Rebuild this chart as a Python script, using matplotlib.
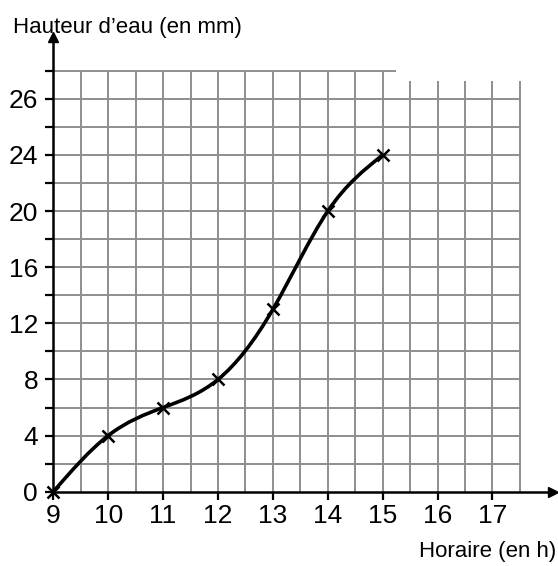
import matplotlib
matplotlib.use("Agg")
import matplotlib.pyplot as plt
from matplotlib.path import Path
from matplotlib.patches import PathPatch
import numpy as np

# data
hours = [9, 10, 11, 12, 13, 14, 15]
water_mm = [0, 4, 6, 8, 13, 20, 24]

x_ticks = [9, 10, 11, 12, 13, 14, 15, 16, 17]
y_ticks = [0, 2, 4, 6, 8, 10, 12, 14, 16, 18, 20, 22, 24, 26, 28, 30]
y_labels = ["0", "", "4", "", "8", "", "12", "", "16", "", "20", "", "24", "", "26", ""]

plt.rcParams['font.family'] = ['Liberation Sans', 'DejaVu Sans']
tick_font = ['Liberation Sans Narrow', 'Liberation Sans', 'DejaVu Sans']

W, H = 558, 566
fig = plt.figure(figsize=(W / 100, H / 100), dpi=100)
ax = fig.add_axes([0, 0, 1, 1])

# pixel mapping of the original picture
px_x0, px_per_x = 53.3, 54.9
px_y0, px_per_y = 491.7, 14.03
ax.set_xlim(9 - px_x0 / px_per_x, 9 + (W - px_x0) / px_per_x)
ax.set_ylim(-(H - px_y0) / px_per_y, px_y0 / px_per_y)

grid_c = '#8e8e8e'
# horizontal grid lines
for y in np.arange(2, 31, 2):
    x_end = 15.25 if y == 30 else 17.5
    ax.hlines(y, 9, x_end, color=grid_c, lw=1.4, zorder=1)
# vertical grid lines
for x in np.arange(9.5, 17.51, 0.5):
    top = 30 if x <= 15 else 29.3
    ax.vlines(x, 0, top, color=grid_c, lw=1.4, zorder=1)

# axes as spines
for s in ['top', 'right']:
    ax.spines[s].set_visible(False)
ax.spines['left'].set_position(('data', 9))
ax.spines['bottom'].set_position(('data', 0))
ax.spines['left'].set_bounds(0, 32.2)
ax.spines['bottom'].set_bounds(9, 18.0)
ax.spines['left'].set_linewidth(1.8)
ax.spines['bottom'].set_linewidth(1.8)
ax.plot(18.1, 0, marker='>', color='black', ms=7, clip_on=False, zorder=5)
ax.plot(9, 32.4, marker='^', color='black', ms=7, clip_on=False, zorder=5)

ax.set_xticks(x_ticks)
ax.set_xticklabels([str(v) for v in x_ticks], family=tick_font, fontsize=19)
ax.set_yticks(y_ticks)
ax.set_yticklabels(y_labels, family=tick_font, fontsize=19)
ax.tick_params(axis='both', direction='out', length=6, width=1.6, pad=5)
ax.tick_params(axis='x', pad=3)

# smooth curve through the measured points: natural cubic spline slopes,
# drawn as cubic Bezier segments
x = np.array(hours, float)
y = np.array(water_mm, float)
n = len(x)
h = np.diff(x)
A = np.zeros((n, n))
b = np.zeros(n)
A[0, 0] = A[-1, -1] = 1
for i in range(1, n - 1):
    A[i, i - 1] = h[i - 1]
    A[i, i] = 2 * (h[i - 1] + h[i])
    A[i, i + 1] = h[i]
    b[i] = 6 * ((y[i + 1] - y[i]) / h[i] - (y[i] - y[i - 1]) / h[i - 1])
M = np.linalg.solve(A, b)
slopes = np.empty(n)
for i in range(n - 1):
    slopes[i] = (y[i + 1] - y[i]) / h[i] - h[i] * (2 * M[i] + M[i + 1]) / 6
slopes[-1] = (y[-1] - y[-2]) / h[-1] + h[-1] * (M[-2] + 2 * M[-1]) / 6

verts = [(x[0], y[0])]
codes = [Path.MOVETO]
for i in range(n - 1):
    verts += [(x[i] + h[i] / 3, y[i] + slopes[i] * h[i] / 3),
              (x[i + 1] - h[i] / 3, y[i + 1] - slopes[i + 1] * h[i] / 3),
              (x[i + 1], y[i + 1])]
    codes += [Path.CURVE4] * 3
ax.add_patch(PathPatch(Path(verts, codes), fc='none', ec='black', lw=2.6, zorder=3,
                       clip_on=False))
ax.plot(hours, water_mm, 'x', color='black', ms=9, mew=1.8, zorder=4, clip_on=False)

fig.text(13 / W, 1 - 33 / H, "Hauteur d’eau (en mm)", fontsize=16, va='baseline', ha='left')
fig.text(556 / W, 1 - 557 / H, "Horaire (en h)", fontsize=16, va='baseline', ha='right')

fig.savefig("out.png", dpi=100)
